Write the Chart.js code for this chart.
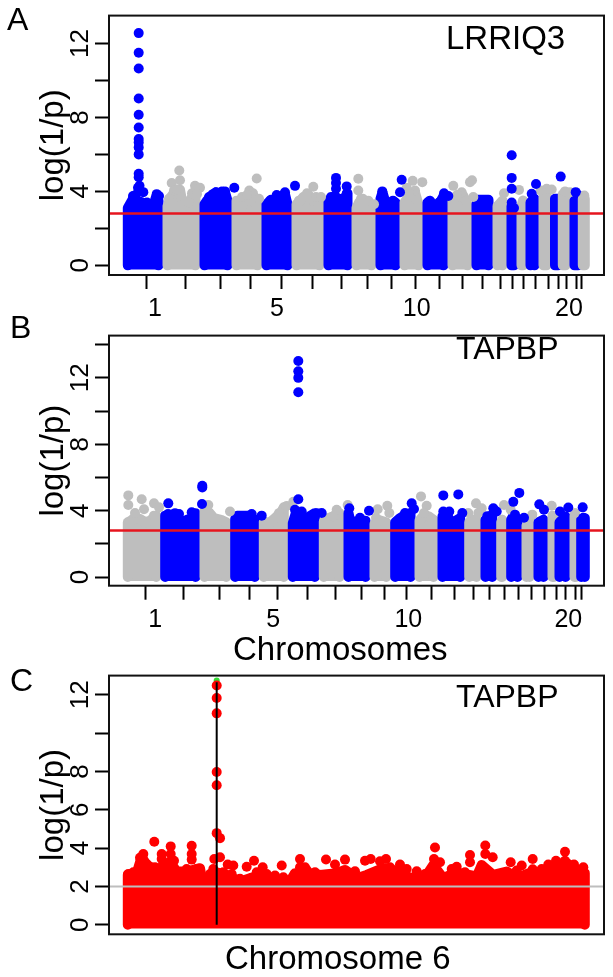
<!DOCTYPE html>
<html>
<head>
<meta charset="utf-8">
<title>Manhattan plots</title>
<script src="https://cdn.jsdelivr.net/npm/chart.js@4"></script>
<style>
  body { margin: 0; background: #fff; }
  #page { position: relative; width: 613px; height: 977px; overflow: hidden; font-family: "Liberation Sans", sans-serif; color: #000; }
  #page canvas { position: absolute; left: 0; }
  .txt { position: absolute; line-height: 1; white-space: nowrap; transform: translateY(-50%); }
</style>
</head>
<body>
<div id="page">
  <canvas id="chartA" width="613" height="320" style="top:0"></canvas>
  <canvas id="chartB" width="613" height="320" style="top:320px"></canvas>
  <canvas id="chartC" width="613" height="300" style="top:660px"></canvas>
  <span class="txt" style="left:7px;top:19px;font-size:32px">A</span>
  <span class="txt" style="left:10px;top:327px;font-size:32px">B</span>
  <span class="txt" style="left:10px;top:680px;font-size:32px">C</span>
  <span class="txt" style="left:446px;top:37px;font-size:33px">LRRIQ3</span>
  <span class="txt" style="left:456px;top:348px;font-size:32px">TAPBP</span>
  <span class="txt" style="left:456px;top:696px;font-size:32px">TAPBP</span>
  <span class="txt" style="left:233px;top:648px;font-size:33px">Chromosomes</span>
  <span class="txt" style="left:225px;top:957px;font-size:33px">Chromosome 6</span>
</div>
<script>
// genome position runs 0..495 across every panel
const xMin = 0;
const xMax = 495;

// panel A: upper edge of the dense mass per chromosome, [position, log(1/p)]
const aSkylines = [
  [[18.8,3.1],[24,3.6],[33,3.4],[38,3.3],[43,3.0],[47,3.7],[49.5,3.5]],
  [[58.5,3.2],[62,3.7],[66,4.0],[71,4.1],[74,3.2],[79,3.3],[84,3.8],[86.5,3.6]],
  [[95.5,3.3],[98,3.5],[103,3.8],[107,3.95],[110,3.4],[113,3.95],[116,3.95],[118.5,3.5]],
  [[127.5,3.5],[131,3.0],[136,3.6],[141,3.85],[145,3.4],[148.5,3.5]],
  [[157.5,3.3],[161,3.5],[167,3.5],[171,3.7],[176,3.85],[178.5,3.3]],
  [[187.5,3.3],[193,3.6],[199,3.85],[204,3.5],[210.5,3.6]],
  [[219.5,3.4],[222,3.7],[227,3.7],[231,3.5],[235,3.5],[238,3.9],[238.5,3.3]],
  [[247.5,3.1],[250,3.4],[254,3.6],[258,3.0],[262.5,3.1]],
  [[271.5,3.6],[273.5,3.95],[277,3.3],[281,3.4],[286.5,3.4]],
  [[295.5,3.4],[301,3.8],[306,3.95],[309.5,3.3]],
  [[318.5,3.4],[321,3.5],[325,3.1],[330,3.3],[334.5,3.75]],
  [[343.5,3.5],[349,3.8],[354,3.8],[358.5,3.3]],
  [[367.5,3.3],[369,3.55],[379.5,3.55]],
  [[388.5,3.2],[393.5,3.5]],
  [[402.5,3.2],[405,3.0]],
  [[412.5,3.2],[414,3.5]],
  [[421.5,3.4],[425.5,3.6]],
  [[434.5,3.7],[437.5,3.8]],
  [[446,3.6],[449,3.6]],
  [[453.8,3.85],[456.5,3.95]],
  [[465.5,3.5],[469,3.8]],
  [[473.8,3.6],[475.8,3.6]]
];
const aBlueDots = [
  [29.7,12.56],[29.7,11.5],[29.7,10.65],[29.7,9.02],[29.7,8.14],[29.7,7.46],[29.7,6.83],[29.7,6.65],[29.7,6.38],[29.7,6.0],
  [29.7,4.95],[29.7,4.77],[30.5,4.3],[29,4.2],[34.3,3.96],[24,3.75],[26.5,3.8],[47.7,3.85],[50,3.75],[38,3.4],
  [125.3,4.2],[100,3.7],[104,3.85],[107,3.95],[113,4.0],[116,4.0],[167.7,3.8],[162,3.55],[172,3.65],[176,3.95],[186,4.3],
  [227,4.73],[227,4.45],[227,4.14],[237.7,4.27],[238,3.9],[233,3.6],
  [273.3,4.0],[292.7,4.63],[291,3.95],[284,3.5],[321,3.4],[335,3.9],[339.3,3.75],[330,3.4],
  [402.7,5.95],[402.7,4.73],[402.7,4.14],[402.7,3.4],[405,3.1],
  [422.7,3.87],[427,4.4],[451.7,4.8],[466.7,3.96]
];
const aGrayDots = [
  [62.7,4.45],[70.3,5.13],[71,4.6],[86,4.3],[91,4.2],[60,3.6],[65,4.05],[68,4.1],[75,3.3],[80,3.4],[83,3.9],[88,3.85],
  [147.7,4.7],[140.3,4.05],[144,3.9],[133,3.7],[138,3.8],[150,3.6],
  [190,3.5],[194.3,3.7],[198,3.9],[204.3,4.25],[207,3.7],[212,3.7],[249.3,4.68],[249.3,4.05],[259.3,3.5],[252,3.6],[265,3.3],
  [303.7,4.57],[313.3,4.5],[297.7,4.2],[306,4.05],[300,3.85],
  [344.3,4.3],[361,4.5],[363,4.6],[352.7,3.95],[364.3,3.7],[348,3.8],
  [395,3.9],[410,4.08],[437.7,4.14],[431.7,4.05],[442.7,4.1],[456,4.0],[461,3.95],[475.3,3.78]
];
const aTickX = [37,76,111,141.7,172,203.5,232.7,258.7,282.7,306,330.3,353.3,373.7,391,403.3,414.3,426,439.3,449.3,457.7,467,472.7];
const aLabelX = [46,168,307.7,460];

// panel B
const bSkylines = [
  [[18.8,3.3],[22,3.4],[26,3.6],[31,3.5],[36,3.3],[41,3.4],[47.2,3.7]],
  [[56.2,3.7],[62,3.75],[67,3.75],[72,3.3],[78,3.45],[83,3.55],[86.5,3.85]],
  [[95.5,4.0],[100,3.9],[105,3.55],[112,3.45],[117.2,3.3]],
  [[126.2,3.5],[128,3.7],[140,3.7],[145.8,3.45]],
  [[154.8,3.35],[160,3.25],[166,3.55],[172,3.9],[174.8,4.2]],
  [[183.8,3.25],[187,3.9],[191,3.35],[196,3.45],[200,3.65],[205.8,3.85]],
  [[214.8,3.35],[219,3.55],[224,3.65],[230.5,3.85]],
  [[239.5,3.85],[241,3.45],[246,3.3],[250,3.4],[256.5,3.4]],
  [[265.5,3.2],[269,3.45],[277.2,3.3]],
  [[286.2,3.3],[291,3.55],[296,3.75],[301.5,3.85]],
  [[310.5,3.4],[315,3.75],[320,3.65],[324.5,3.45]],
  [[333.5,3.65],[338,3.75],[342,3.3],[347,3.4],[351.2,3.55]],
  [[360.2,3.3],[364,3.45],[367.5,3.45]],
  [[376.5,3.45],[383.2,3.75]],
  [[392.2,3.3],[393.2,3.45]],
  [[402.2,3.45],[405,3.75],[408.5,3.45]],
  [[417.5,3.1],[420.5,3.35]],
  [[429.5,3.3],[434.5,3.45]],
  [[443.5,3.7],[445,3.55]],
  [[450.5,3.3],[456.5,3.65]],
  [[465.5,3.7],[467,3.55]],
  [[472.2,3.45],[475.8,3.55]]
];
const bBlueDots = [
  [59.3,4.44],[66,3.85],[82.7,3.9],[93.3,5.5],[93.3,5.4],[93,4.4],[59,3.8],[70,3.8],
  [142.7,3.8],[152.7,3.7],
  [189.3,13.02],[189.3,12.4],[189.3,12.0],[189.3,11.13],[189.3,4.69],[186,4.05],[192.7,3.95],[212.7,3.86],[208,3.85],
  [240.3,4.15],[260,4.0],[251,3.57],[302.7,4.44],[305,4.1],[296,3.86],
  [334.3,4.92],[349.3,4.98],[340.3,3.95],[334.3,3.95],[353.3,3.86],
  [384.3,4.15],[387.7,3.95],[378.3,3.67],[410.3,5.07],[404.3,4.53],[406,3.76],[415,3.57],
  [430.3,4.38],[435,4.05],[451,3.95],[459.3,4.19],[473.7,4.2],[474.3,3.57]
];
const bGrayDots = [
  [19.3,4.92],[19.3,4.34],[32.7,4.69],[35,4.09],[26,3.86],[45,4.44],[45,3.7],[50,4.2],
  [99.3,4.34],[121,3.95],[177.7,4.28],[184.3,4.53],[170,3.85],
  [227.7,4.05],[224.3,3.67],[238.7,4.34],[268.7,4.09],[278.3,4.3],[280.3,3.86],[267,3.57],
  [312,4.86],[317.7,4.3],[315,3.86],[359.3,3.86],[367,4.44],[372.7,4.15],[369.3,3.86],
  [395,4.34],[401.7,4.05],[423.3,3.76],[442.7,4.3],[466,3.86]
];
const bTickX = [36.7,74.7,110,140,168.7,198.7,226.7,252,275.3,297.7,322,345,364.3,380.3,395,409.3,422.7,435.3,447,456.7,466,472.7];
const bLabelX = [46.3,164.3,299.3,459.3];

const chrLabels = ["1","5","10","20"];

// panel C: chromosome 6 only
const cSkyline = [
  [18.8,2.6],[27.7,2.69],[32.7,3.55],[37.7,3.12],[47.7,2.86],[61,3.29],[67.7,2.78],[77.7,2.78],[91,2.95],[94.3,2.0],
  [99.3,2.26],[104.3,2.78],[117.7,2.6],[131,2.26],[141,2.43],[151,2.57],[164.3,2.43],[176,2.26],[178.3,1.05],[181,2.26],
  [186,2.69],[191,2.69],[201,2.69],[211,2.6],[227.7,2.69],[236,2.86],[247.7,2.43],[257.7,2.6],[274,2.95],[291,2.78],
  [301,2.43],[307.7,2.52],[317.7,2.6],[324.3,3.12],[334.3,2.43],[341,2.6],[351,2.69],[367.7,2.52],[372.7,3.12],[384.3,2.6],
  [397.7,2.78],[407.7,2.43],[424.3,2.78],[431,2.43],[444.3,2.95],[456,3.29],[467.7,2.86],[475.8,2.69]
];
const cDots = [
  [107.7,12.48],[107.7,11.83],[107.7,11.03],[107.7,7.97],[107.7,7.28],[107.7,4.78],[111,4.52],[111,3.52],[105.3,3.43],
  [45.3,4.33],[52.7,3.69],[52.7,3.43],[34.3,3.69],[61.7,4.09],[61.7,3.69],[65,3.34],[82.7,4.12],[82.7,3.69],[82.7,3.4],
  [118.7,3.14],[124.3,3.09],[137.7,3.03],[145,3.34],[153.7,3.0],[172.7,3.09],[191,3.43],[191,3.0],[197.7,2.86],
  [217,3.41],[226,3.14],[236,3.4],[256,3.34],[261.7,3.43],[271,3.31],[277,3.43],[291,3.14],[307.7,2.79],
  [326,4.03],[325,3.43],[331,3.26],[361,3.64],[361,3.26],[376.3,4.14],[376.3,3.69],[383.7,3.52],[401.7,3.26],[412.7,3.09],
  [423.7,3.43],[423.7,2.9],[439.3,3.14],[447,3.34],[456,3.81],[456,3.34],[465,3.14],[474.3,3.0],
  [196,3.0],[206,2.74],[246,2.79],[281,3.0],[297.7,2.91],[316,2.65],[342.7,2.91],[347.7,3.03],[356,2.74],[372.7,2.83],
  [391,2.65],[407.7,2.83],[432.7,2.91],[19.3,2.65],[24.3,2.74],[31,3.5],[37.7,3.17],[46,3.0],[51,2.91],[57.7,3.0],
  [67.7,2.74],[72.7,2.65],[77.7,2.91],[87.7,2.91],[90.3,2.65],[101,2.65],[104.3,2.91],[114.3,2.74],[122.7,2.65],[131,2.4],
  [147.7,2.74],[157.7,2.65],[166,2.57],[174.3,2.48],[186,2.65],[207.7,2.65]
];
const cPeakX = 107.7;
const cPeakTop = 12.65;
const cTopHit = [[107.7,12.75]];

const thresholdAB = 2.8;
const thresholdC = 2;

const BLUE = "#0000ff";
const GRAY = "#bebebe";
const RED = "#ff0000";
const LINE_RED = "#e6141e";

Chart.defaults.font.family = '"Liberation Sans", sans-serif';
Chart.defaults.color = "#000";

// R style box around the plot region
const boxPlugin = {
  id: "box",
  afterDatasetsDraw(chart) {
    const a = chart.chartArea;
    const ctx = chart.ctx;
    ctx.save();
    ctx.strokeStyle = "#111";
    ctx.lineWidth = 2;
    ctx.strokeRect(a.left, a.top, a.right - a.left, a.bottom - a.top);
    ctx.restore();
  }
};

const toPoints = (pairs) => pairs.map((p) => ({ x: p[0], y: p[1] }));

// dense mass of one chromosome: outline down to zero, filled, drawn with a fat round pen
function massDataset(skyline, color, base, order) {
  const first = skyline[0][0];
  const last = skyline[skyline.length - 1][0];
  return {
    data: toPoints([[first, 0], ...skyline, [last, 0]]),
    showLine: true,
    fill: { value: base },
    backgroundColor: color,
    borderColor: color,
    borderWidth: 10,
    borderJoinStyle: "round",
    borderCapStyle: "round",
    pointRadius: 0,
    order: order
  };
}

function dotDataset(pairs, color, order, radius) {
  return { data: toPoints(pairs), backgroundColor: color, borderWidth: 0, pointRadius: radius || 5, order: order };
}

function hLine(value, color, width, order) {
  return {
    data: toPoints([[xMin, value], [xMax, value]]),
    showLine: true, borderColor: color, borderWidth: width, pointRadius: 0, order: order
  };
}

function makePanel(id, p) {
  const scales = {
    x: {
      type: "linear", min: xMin, max: xMax, weight: 0, display: true,
      border: { display: false },
      grid: { drawOnChartArea: false, tickLength: 14, tickWidth: 2, tickColor: "#000", display: !!p.tickX },
      ticks: { display: false },
      afterBuildTicks: (s) => { s.ticks = (p.tickX || []).map((v) => ({ value: v })); },
      afterFit: (s) => { s.height = p.tickX ? 14 : 0; }
    },
    y: {
      type: "linear", min: p.yMin, max: p.yMax,
      border: { display: false },
      grid: { drawOnChartArea: false, tickLength: 14, tickWidth: 2, tickColor: "#000" },
      title: { display: true, text: "log(1/p)", font: { size: 33 }, color: "#000", padding: { top: 34, bottom: 0 } },
      ticks: {
        font: { size: 26 }, color: "#000", padding: 0, minRotation: 90, maxRotation: 90,
        crossAlign: "center", autoSkip: false,
        callback: (v) => (p.yLabels.includes(v) ? String(v) : "")
      },
      afterBuildTicks: (s) => { s.ticks = p.yTicks.map((v) => ({ value: v })); },
      afterFit: (s) => { s.width = 109; }
    }
  };
  if (p.labelX) {
    scales.xLabels = {
      type: "linear", axis: "x", position: "bottom", min: xMin, max: xMax, weight: 1,
      border: { display: false },
      grid: { display: false, drawTicks: false, tickLength: 0 },
      ticks: {
        font: { size: 25 }, color: "#000", padding: p.labelPad, autoSkip: false, maxRotation: 0,
        callback: (v) => chrLabels[p.labelX.indexOf(v)]
      },
      afterBuildTicks: (s) => { s.ticks = p.labelX.map((v) => ({ value: v })); },
      afterFit: (s) => { s.height = p.labelH; }
    };
  }
  return new Chart(document.getElementById(id), {
    type: "scatter",
    data: { datasets: p.datasets },
    options: {
      responsive: false,
      animation: false,
      events: [],
      layout: { autoPadding: false, padding: { left: 0, right: 9, top: p.padTop, bottom: p.padBottom } },
      plugins: { legend: { display: false }, tooltip: { enabled: false } },
      scales: scales
    },
    plugins: [boxPlugin]
  });
}

// later chromosomes lie on top of earlier ones, lower order is drawn last
function chrDatasets(skylines, firstColor, secondColor, base) {
  return skylines.map((s, i) => massDataset(s, i % 2 === 0 ? firstColor : secondColor, base, 100 - i));
}

makePanel("chartA", {
  yMin: -0.522, yMax: 13.507, padTop: 14.3, padBottom: 0,
  yTicks: [0,2,4,6,8,10,12], yLabels: [0,4,8,12],
  tickX: aTickX, labelX: aLabelX, labelPad: 5, labelH: 31,
  datasets: [
    hLine(thresholdAB, LINE_RED, 2.5, 0),
    dotDataset(aBlueDots, BLUE, 10),
    dotDataset(aGrayDots, GRAY, 11),
    ...chrDatasets(aSkylines, BLUE, GRAY, -0.22)
  ]
});

makePanel("chartB", {
  yMin: -0.52, yMax: 14.546, padTop: 5.3, padBottom: 0,
  yTicks: [0,2,4,6,8,10,12,14], yLabels: [0,4,8,12],
  tickX: bTickX, labelX: bLabelX, labelPad: 5, labelH: 40.3,
  datasets: [
    hLine(thresholdAB, LINE_RED, 2.5, 0),
    dotDataset(bBlueDots, BLUE, 10),
    dotDataset(bGrayDots, GRAY, 11),
    ...chrDatasets(bSkylines, GRAY, BLUE, -0.24)
  ]
});

makePanel("chartC", {
  yMin: -0.497, yMax: 13.0, padTop: 14, padBottom: 25.7,
  yTicks: [0,2,4,6,8,10,12], yLabels: [0,2,4,6,8,12],
  datasets: [
    {
      data: toPoints([[cPeakX, 0], [cPeakX, cPeakTop]]),
      showLine: true, borderColor: "#000", borderWidth: 2, pointRadius: 0, order: 1
    },
    hLine(thresholdC, GRAY, 2, 2),
    dotDataset(cDots, RED, 10),
    dotDataset(cTopHit, "#33dd33", 11, 3),
    massDataset(cSkyline, RED, -0.2, 100)
  ]
});
</script>
</body>
</html>
